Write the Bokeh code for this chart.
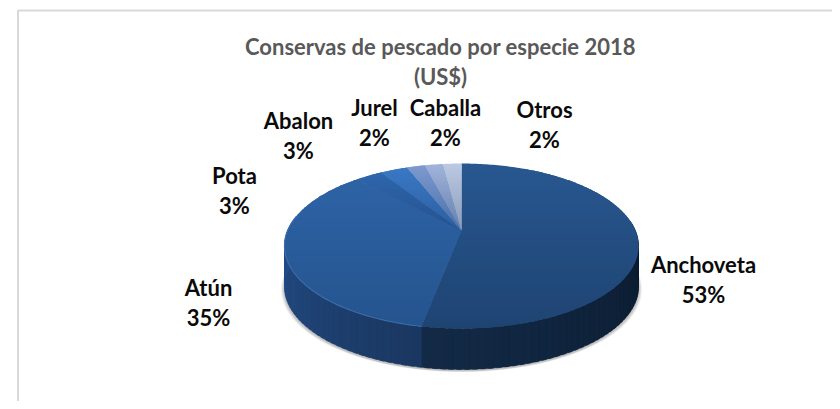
from bokeh.plotting import figure
from bokeh.models import Range1d
from bokeh.embed import file_html
from bokeh.resources import INLINE
from bokeh.core.properties import value
import math

categories = ["Anchoveta", "Atún", "Pota", "Abalon", "Jurel", "Caballa", "Otros"]
shares = [53, 35, 3, 3, 2, 2, 2]
face_top = ["#285790", "#2e64a8", "#3069b2", "#3b7ac8", "#7f9bcf", "#a3b4d9", "#bcc9e3"]
face_bot = ["#1e4472", "#25548e", "#25528e", "#2c5f9e", "#4a6fa8", "#5f7fae", "#8a9bb8"]
title_lines = ["Conservas de pescado por especie 2018", "(US$)"]
label_x = [703, 208, 234, 298, 374, 445, 544]
label_y = [264, 287, 175, 120, 107, 107, 109]

W, H = 832, 401
p = figure(width=W, height=H, output_backend="svg", toolbar_location=None,
           x_range=Range1d(0, W), y_range=Range1d(H, 0), min_border=0,
           outline_line_color=None, background_fill_color="white")
p.axis.visible = False
p.grid.visible = False

# chart frame
p.line([17.5, 17.5, W], [H, 10, 10], line_color="#d9d9d9", line_width=2)

# perspective projection of a unit circle
AX, AY = 461.0, 230.0
FAR, NEAR, HALF = 67.0, 98.0, 177.0
DEPTH = 41.0
C = (NEAR - FAR) / (NEAR + FAR)
A = FAR * (1 + C)
K = HALF * math.sqrt(1 - C * C)

def proj(theta):
    X, Y = math.sin(theta), math.cos(theta)
    d = 1 + C * Y
    return AX + K * X / d, AY - A * Y / d

def mix(c1, c2, t):
    a = [int(c1[i:i + 2], 16) for i in (1, 3, 5)]
    b = [int(c2[i:i + 2], 16) for i in (1, 3, 5)]
    return "#%02x%02x%02x" % tuple(round(u + (v - u) * t) for u, v in zip(a, b))

# soft shadow beneath the pie
for i in range(5):
    ts = [k / 120 * 2 * math.pi for k in range(121)]
    pts = [proj(t) for t in ts]
    e = 3.5 - i * 0.7
    p.patch([AX + (x - AX) * (1 + e / HALF) for x, _ in pts],
            [y + DEPTH + 1.5 + e * 0.3 for _, y in pts],
            fill_color="#000000", fill_alpha=0.05, line_color=None)

# side wall: front half of the rim, in shaded strips
cum = [0.0]
for s in shares:
    cum.append(cum[-1] + s)
angles = [c / sum(shares) * 2 * math.pi for c in cum]
N = 90
wall_a = angles[1]  # boundary Anchoveta / Atún on the rim
T0, T1 = math.pi / 2 * 0.92, math.pi * 1.54
for i in range(N):
    t0 = T0 + (T1 - T0) * i / N
    t1 = T0 + (T1 - T0) * (i + 1.6) / N
    x0, y0 = proj(t0)
    x1, y1 = proj(min(t1, T1))
    mid = T0 + (T1 - T0) * (i + 0.5) / N
    if mid < wall_a:
        col = mix("#0a1a2c", "#132a47", (mid - T0) / (wall_a - T0))
    else:
        col = mix("#1a3760", "#24508c", (mid - wall_a) / (T1 - wall_a))
    p.patch([x0, x1, x1, x0], [y0, y1, y1 + DEPTH, y0 + DEPTH], fill_color=col, line_color=col, line_width=0.4)

# top face: wedges from the shares, shaded in horizontal bands
def clip(poly, y, keep_below):
    out = []
    for i in range(len(poly)):
        a, b = poly[i], poly[(i + 1) % len(poly)]
        ia = (a[1] >= y) if keep_below else (a[1] <= y)
        ib = (b[1] >= y) if keep_below else (b[1] <= y)
        if ia:
            out.append(a)
        if ia != ib:
            t = (y - a[1]) / (b[1] - a[1])
            out.append((a[0] + (b[0] - a[0]) * t, y))
    return out

TOP, BOT = AY - FAR, AY + NEAR
for k in range(len(shares)):
    steps = max(4, int((angles[k + 1] - angles[k]) * 60))
    poly = [(AX, AY)] + [proj(angles[k] + (angles[k + 1] - angles[k]) * j / steps) for j in range(steps + 1)]
    small = shares[k] <= 3
    lo, hi = TOP, (AY if small else BOT)
    BANDS = 30
    for b in range(BANDS):
        y0 = lo + (hi - lo) * b / BANDS
        y1 = min(hi, lo + (hi - lo) * (b + 2.2) / BANDS)
        c = clip(clip(poly, y0, True), y1, False)
        if len(c) < 3:
            continue
        col = mix(face_top[k], face_bot[k], (b + 0.5) / BANDS)
        p.patch([q[0] for q in c], [q[1] for q in c], fill_color=col, line_color=None)

# lighter rim on the Atún side
ts = [angles[1] + (math.pi * 1.56 - angles[1]) * j / 60 for j in range(61)]
rim = [proj(t) for t in ts]
p.line([q[0] for q in rim], [q[1] for q in rim], line_color="#3a6ca8", line_width=1.2)

# title
for i, line in enumerate(title_lines):
    p.text([440], [46 + i * 30], text=[line], text_align="center", text_baseline="middle",
           text_font=value("Lato"), text_font_style="bold", text_font_size="22px", text_color="#595959")

# data labels
for i, (name, s) in enumerate(zip(categories, shares)):
    for j, t in enumerate([name, f"{s}%"]):
        p.text([label_x[i]], [label_y[i] + j * 30], text=[t], text_align="center", text_baseline="middle",
               text_font=value("Lato"), text_font_style="bold", text_font_size="22px", text_color="#0a0a0a")

open("out.html", "w").write(file_html(p, INLINE))
